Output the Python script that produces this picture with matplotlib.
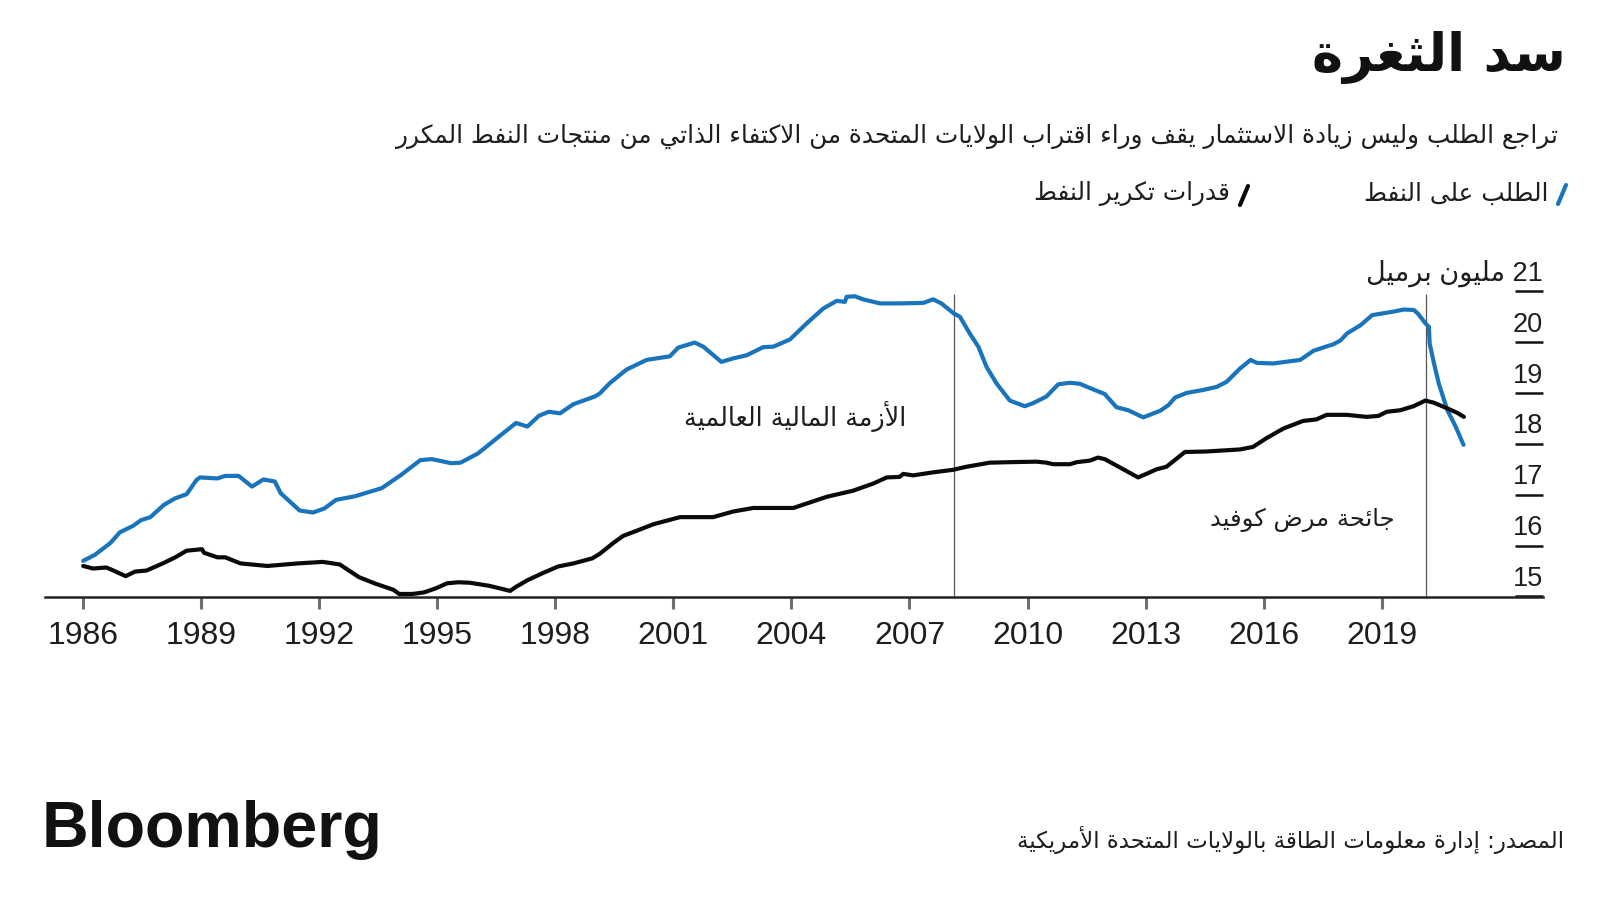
import re
import matplotlib
matplotlib.use("Agg")
import matplotlib.pyplot as plt
from matplotlib.lines import Line2D
from matplotlib import transforms

# --- data ---
demand_years = [1986.0, 1986.3, 1986.69, 1986.93, 1987.27, 1987.47, 1987.71, 1988.05, 1988.34, 1988.63,
                1988.88, 1988.97, 1989.41, 1989.61, 1989.95, 1990.29, 1990.58, 1990.87, 1991.02, 1991.5,
                1991.84, 1992.13, 1992.43, 1992.91, 1993.59, 1994.08, 1994.57, 1994.86, 1995.35, 1995.59,
                1996.03, 1996.61, 1997.0, 1997.29, 1997.58, 1997.83, 1998.12, 1998.46, 1999.0, 1999.13,
                1999.38, 1999.81, 2000.32, 2000.91, 2001.12, 2001.54, 2001.76, 2002.22, 2002.52, 2002.86,
                2003.28, 2003.54, 2003.96, 2004.39, 2004.81, 2005.15, 2005.36, 2005.4, 2005.61, 2005.82,
                2006.25, 2006.75, 2007.35, 2007.6, 2007.81, 2008.13, 2008.28, 2008.53, 2008.75, 2008.96,
                2009.21, 2009.55, 2009.93, 2010.14, 2010.48, 2010.78, 2011.08, 2011.33, 2011.67, 2011.96,
                2012.26, 2012.56, 2012.94, 2013.37, 2013.58, 2013.75, 2014.04, 2014.47, 2014.81, 2015.06,
                2015.4, 2015.67, 2015.83, 2016.25, 2016.93, 2017.27, 2017.78, 2017.95, 2018.12, 2018.46,
                2018.76, 2019.31, 2019.56, 2019.82, 2019.92, 2020.11, 2020.2, 2020.22, 2020.33, 2020.45,
                2020.67, 2020.88, 2021.08]
demand = [15.70, 15.82, 16.05, 16.26, 16.39, 16.50, 16.56, 16.80, 16.93, 17.01,
          17.29, 17.34, 17.32, 17.37, 17.37, 17.16, 17.30, 17.26, 17.03, 16.69,
          16.65, 16.73, 16.90, 16.97, 17.13, 17.39, 17.68, 17.70, 17.62, 17.63,
          17.81, 18.17, 18.41, 18.34, 18.55, 18.63, 18.60, 18.78, 18.93, 18.99,
          19.19, 19.46, 19.65, 19.72, 19.89, 19.99, 19.91, 19.61, 19.68, 19.74,
          19.90, 19.91, 20.05, 20.37, 20.66, 20.81, 20.79, 20.89, 20.90, 20.84,
          20.76, 20.76, 20.77, 20.84, 20.76, 20.56, 20.50, 20.17, 19.91, 19.51,
          19.19, 18.85, 18.74, 18.80, 18.93, 19.17, 19.20, 19.18, 19.07, 18.98,
          18.72, 18.66, 18.52, 18.65, 18.76, 18.91, 19.00, 19.06, 19.12, 19.22,
          19.48, 19.65, 19.59, 19.58, 19.65, 19.83, 19.96, 20.03, 20.17, 20.33,
          20.53, 20.60, 20.64, 20.63, 20.56, 20.37, 20.30, 19.97, 19.58, 19.19,
          18.66, 18.34, 17.98]

capacity_years = [1986.0, 1986.25, 1986.59, 1986.74, 1987.08, 1987.32, 1987.61, 1988.05, 1988.34, 1988.63,
                  1989.02, 1989.07, 1989.41, 1989.61, 1990.0, 1990.68, 1991.45, 1992.09, 1992.52, 1993.01,
                  1993.4, 1993.89, 1994.03, 1994.37, 1994.66, 1994.96, 1995.25, 1995.54, 1995.83, 1996.32,
                  1996.85, 1997.0, 1997.29, 1997.68, 1998.07, 1998.46, 1998.94, 1999.13, 1999.47, 1999.72,
                  2000.06, 2000.49, 2001.17, 2002.01, 2002.52, 2003.03, 2004.05, 2004.9, 2005.57, 2006.08,
                  2006.42, 2006.75, 2006.84, 2007.09, 2007.6, 2008.11, 2008.45, 2009.04, 2009.55, 2010.23,
                  2010.48, 2010.65, 2011.08, 2011.25, 2011.58, 2011.79, 2011.96, 2012.34, 2012.81, 2013.02,
                  2013.28, 2013.53, 2014.0, 2014.55, 2015.4, 2015.73, 2016.07, 2016.5, 2017.0, 2017.34,
                  2017.6, 2018.11, 2018.62, 2018.92, 2019.13, 2019.47, 2019.81, 2020.11, 2020.32, 2020.66,
                  2020.92, 2021.09]
capacity = [15.60, 15.55, 15.57, 15.52, 15.40, 15.49, 15.51, 15.66, 15.77, 15.90,
            15.93, 15.86, 15.77, 15.77, 15.65, 15.60, 15.65, 15.68, 15.63, 15.38,
            15.26, 15.13, 15.05, 15.05, 15.08, 15.16, 15.26, 15.28, 15.27, 15.21,
            15.11, 15.19, 15.32, 15.46, 15.59, 15.65, 15.75, 15.84, 16.05, 16.19,
            16.29, 16.42, 16.56, 16.56, 16.67, 16.74, 16.74, 16.96, 17.08, 17.22,
            17.34, 17.35, 17.41, 17.38, 17.44, 17.49, 17.55, 17.63, 17.64, 17.65,
            17.63, 17.60, 17.60, 17.64, 17.67, 17.73, 17.70, 17.54, 17.34, 17.41,
            17.50, 17.55, 17.84, 17.85, 17.89, 17.94, 18.11, 18.30, 18.45, 18.48,
            18.57, 18.57, 18.53, 18.55, 18.63, 18.66, 18.74, 18.85, 18.81, 18.70,
            18.61, 18.53]

x_ticks = list(range(1986, 2020, 3))
y_ticks = [15, 16, 17, 18, 19, 20, 21]
event_years = [2008.13, 2020.13]

title = "سد الثغرة"
subtitle = "تراجع الطلب وليس زيادة الاستثمار يقف وراء اقتراب الولايات المتحدة من الاكتفاء الذاتي من منتجات النفط المكرر"
legend_demand = "الطلب على النفط"
legend_capacity = "قدرات تكرير النفط"
unit = "مليون برميل"
note_crisis = "الأزمة المالية العالمية"
note_covid = "جائحة مرض كوفيد"
source = "المصدر: إدارة معلومات الطاقة بالولايات المتحدة الأمريكية"

# --- minimal Arabic shaping (matplotlib has no complex text layout) ---
# letter -> (isolated presentation form, number of forms)
ARABIC = {
    '\u0621': (0xFE80, 1), '\u0622': (0xFE81, 2), '\u0623': (0xFE83, 2), '\u0624': (0xFE85, 2),
    '\u0625': (0xFE87, 2), '\u0626': (0xFE89, 4), '\u0627': (0xFE8D, 2), '\u0628': (0xFE8F, 4),
    '\u0629': (0xFE93, 2), '\u062A': (0xFE95, 4), '\u062B': (0xFE99, 4), '\u062C': (0xFE9D, 4),
    '\u062D': (0xFEA1, 4), '\u062E': (0xFEA5, 4), '\u062F': (0xFEA9, 2), '\u0630': (0xFEAB, 2),
    '\u0631': (0xFEAD, 2), '\u0632': (0xFEAF, 2), '\u0633': (0xFEB1, 4), '\u0634': (0xFEB5, 4),
    '\u0635': (0xFEB9, 4), '\u0636': (0xFEBD, 4), '\u0637': (0xFEC1, 4), '\u0638': (0xFEC5, 4),
    '\u0639': (0xFEC9, 4), '\u063A': (0xFECD, 4), '\u0641': (0xFED1, 4), '\u0642': (0xFED5, 4),
    '\u0643': (0xFED9, 4), '\u0644': (0xFEDD, 4), '\u0645': (0xFEE1, 4), '\u0646': (0xFEE5, 4),
    '\u0647': (0xFEE9, 4), '\u0648': (0xFEED, 2), '\u0649': (0xFEEF, 2), '\u064A': (0xFEF1, 4),
}
LAM_ALEF = {'\u0622': 0xFEF5, '\u0623': 0xFEF7, '\u0625': 0xFEF9, '\u0627': 0xFEFB}


def ar(text):
    out = []
    prev_links = False
    i = 0
    while i < len(text):
        c = text[i]
        nxt = text[i + 1] if i + 1 < len(text) else ''
        if c == '\u0644' and nxt in LAM_ALEF:
            out.append(chr(LAM_ALEF[nxt] + (1 if prev_links else 0)))
            prev_links = False
            i += 2
            continue
        if c not in ARABIC:
            out.append(c)
            prev_links = False
            i += 1
            continue
        base, kind = ARABIC[c]
        link_next = kind == 4 and nxt in ARABIC and ARABIC[nxt][1] > 1
        if kind == 1:
            form = 0
        elif prev_links and link_next:
            form = 3
        elif prev_links:
            form = 1
        elif link_next:
            form = 2
        else:
            form = 0
        out.append(chr(base + form))
        prev_links = link_next
        i += 1
    # right-to-left: reverse, but keep digit runs in reading order
    parts = re.findall(r'[0-9A-Za-z.%]+|[^0-9A-Za-z.%]', ''.join(out))
    return ''.join(reversed(parts))


AR_FONT = ['DejaVu Sans']
NUM_FONT = ['Liberation Sans', 'DejaVu Sans']
TXT = '#1e1e1e'
BLUE = '#1a74bb'

W, H = 1600, 900
fig = plt.figure(figsize=(16, 9), dpi=100)
fig.patch.set_facecolor('white')

# axes placed so that 15 sits on y=596px and 21 at y=291px
ax = fig.add_axes([45 / W, (H - 596.5) / H, (1543 - 45) / W, (596.5 - 280) / H])
ax.set_xlim(1985.03, 2023.1)
ax.set_ylim(15, 21.22)

ax.plot(demand_years, demand, color=BLUE, lw=3.0, solid_capstyle='round', solid_joinstyle='round', zorder=3)
ax.plot(capacity_years, capacity, color='#0a0a0a', lw=3.0, solid_capstyle='round', solid_joinstyle='round', zorder=3)
ax.vlines(event_years, 15, 20.95, color='#555555', lw=0.9, zorder=2)

for s in ['top', 'left', 'right']:
    ax.spines[s].set_visible(False)
ax.spines['bottom'].set_linewidth(1.8)
ax.spines['bottom'].set_color('#222222')
ax.spines['bottom'].set_zorder(4)

ax.set_xticks(x_ticks)
ax.set_xticklabels([str(y) for y in x_ticks])
ax.tick_params(axis='x', length=8.6, width=2.2, color='#707070', pad=9, labelsize=23, labelcolor=TXT)
for lab in ax.get_xticklabels():
    lab.set_family(NUM_FONT)

ax.set_yticks(y_ticks)
ax.yaxis.set_ticks_position('right')
ax.tick_params(axis='y', direction='in', length=20, width=1.8, color='#111111',
               labelleft=False, labelright=False)
ylab_tr = transforms.offset_copy(ax.get_yaxis_transform(), fig=fig, x=0, y=7.5, units='points')
for v in y_ticks:
    lab = str(v)
    if v == y_ticks[-1]:
        lab = ar(str(v) + ' ' + unit)
    ax.text(1.0, v, lab, transform=ylab_tr, ha='right', va='baseline', fontsize=19.5,
            color=TXT, family=NUM_FONT)

# annotations
ax.text(2006.93, 18.53, ar(note_crisis), ha='right', va='center', fontsize=18.4, color=TXT, family=AR_FONT)
ax.text(2019.33, 16.5, ar(note_covid), ha='right', va='center', fontsize=17.5, color=TXT, family=AR_FONT)

# header
fig.text(1566 / W, 1 - 58 / H, ar(title), ha='right', va='center', fontsize=38, weight='bold',
         color='#111111', family=AR_FONT)
fig.text(1558 / W, 1 - 136 / H, ar(subtitle), ha='right', va='center', fontsize=17.8,
         color=TXT, family=AR_FONT)

# legend
fig.add_artist(Line2D([1558 / W, 1566 / W], [1 - 204 / H, 1 - 185 / H], transform=fig.transFigure,
                      color=BLUE, lw=3, solid_capstyle='round'))
fig.text(1548 / W, 1 - 194 / H, ar(legend_demand), ha='right', va='center', fontsize=17.8,
         color=TXT, family=AR_FONT)
fig.add_artist(Line2D([1240 / W, 1248 / W], [1 - 205 / H, 1 - 186 / H], transform=fig.transFigure,
                      color='#0a0a0a', lw=3, solid_capstyle='round'))
fig.text(1230 / W, 1 - 194 / H, ar(legend_capacity), ha='right', va='center', fontsize=17.8,
         color=TXT, family=AR_FONT)

# footer
fig.text(42 / W, 1 - 847 / H, 'Bloomberg', ha='left', va='baseline', fontsize=46.5, weight='bold',
         color='#111111', family=NUM_FONT)
fig.text(1564 / W, 1 - 840 / H, ar(source), ha='right', va='center', fontsize=16.5,
         color=TXT, family=AR_FONT)

fig.savefig('out.png', dpi=100, facecolor='white')
